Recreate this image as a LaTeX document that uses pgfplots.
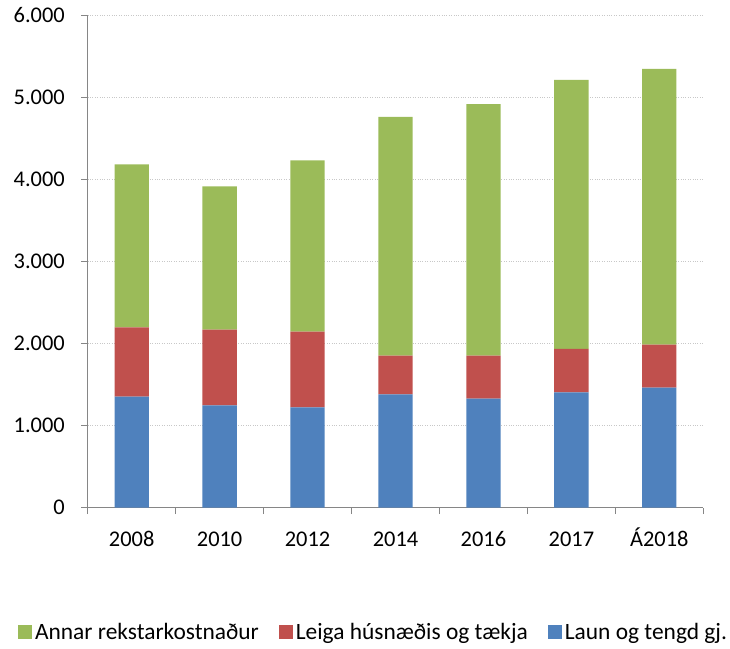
\documentclass[border=0pt]{standalone}
\usepackage{fontspec}
\setmainfont{Carlito}
\usepackage{pgfplots}
\pgfplotsset{compat=1.18}
\definecolor{cgreen}{HTML}{9BBB59}
\definecolor{cred}{HTML}{C0504D}
\definecolor{cblue}{HTML}{4F81BD}
\definecolor{axgray}{HTML}{868686}
\definecolor{gridgray}{HTML}{C8C8C8}
\pgfplotsset{sqlegend/.style={legend image code/.code={\fill[##1] (0bp,-7bp) rectangle (14bp,7bp);}}}
\begin{document}
\begin{tikzpicture}
\path[use as bounding box] (0bp,0bp) rectangle (730bp,649bp);
\begin{axis}[
  at={(87.7bp,141.3bp)}, anchor=south west,
  scale only axis, width=615.6bp, height=492.2bp,
  ybar stacked, bar width=0.39,
  xmin=-0.5, xmax=6.5, ymin=0, ymax=6000,
  axis lines*=left,
  axis line style={draw=axgray, line width=1.3bp},
  xtick={-0.5,0.5,...,6.5}, xticklabels={},
  extra x ticks={0,1,2,3,4,5,6},
  extra x tick labels={2008,2010,2012,2014,2016,2017,Á2018},
  extra x tick style={major tick length=0pt},
  ytick={0,1000,...,6000},
  yticklabels={0,1.000,2.000,3.000,4.000,5.000,6.000},
  tick align=outside,
  major tick length=6.5bp,
  tick style={draw=axgray, line width=1.3bp},
  ymajorgrids,
  grid style={dotted, draw=gridgray, line width=1.3bp},
  xticklabel style={anchor=base, inner sep=0pt, yshift=-38.3bp, font=\fontsize{22.5}{26}\selectfont},
  yticklabel style={anchor=east, inner sep=0pt, xshift=-22.7bp+6.5bp, font=\fontsize{22.5}{26}\selectfont},
  legend columns=3,
  reverse legend,
  legend cell align=left,
  legend style={draw=none, at={(axis description cs:0.4651,-0.2525)}, anchor=center,
    font=\fontsize{23.5}{27}\selectfont, inner sep=0pt,
    nodes={inner sep=3bp},
    /tikz/every even column/.append style={column sep=17bp}},
]
\addplot[fill=cblue, draw=none, sqlegend] coordinates {(0,1353) (1,1248) (2,1224) (3,1382) (4,1329) (5,1407) (6,1463)};
\addlegendentry{Laun og tengd gj.}
\addplot[fill=cred, draw=none, sqlegend] coordinates {(0,846) (1,922) (2,922) (3,471) (4,524) (5,528) (6,524)};
\addlegendentry{Leiga húsnæðis og tækja}
\addplot[fill=cgreen, draw=none, sqlegend] coordinates {(0,1987) (1,1748) (2,2089) (3,2910) (4,3068) (5,3279) (6,3361)};
\addlegendentry{Annar rekstarkostnaður}
\end{axis}
\end{tikzpicture}
\end{document}
